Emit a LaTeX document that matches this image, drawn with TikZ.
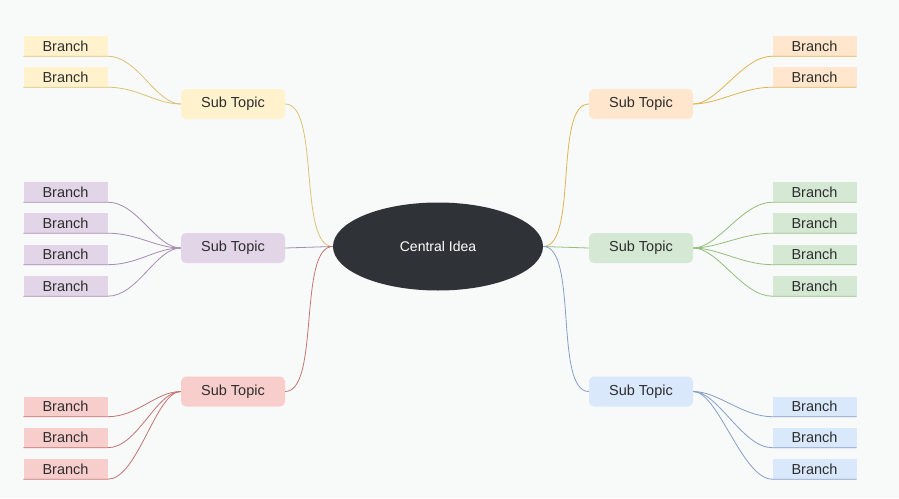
\documentclass[tikz,border=0pt]{standalone}
\usepackage{fontspec}
\setmainfont{Liberation Sans}
\usepackage{tikz}
\usetikzlibrary{positioning,shapes.geometric}
\usepackage{xcolor}
\definecolor{paper}{RGB}{248,249,249}
\definecolor{ideadark}{RGB}{47,51,56}
\definecolor{inkgrey}{RGB}{45,45,45}
\definecolor{yelfill}{HTML}{FFF2CC}
\definecolor{yelline}{HTML}{DCC276}
\definecolor{orafill}{HTML}{FFE6CC}
\definecolor{oraline}{HTML}{DDB552}
\definecolor{purfill}{HTML}{E1D5E7}
\definecolor{purline}{HTML}{A68BB3}
\definecolor{grnfill}{HTML}{D5E8D4}
\definecolor{grnline}{HTML}{95BE7E}
\definecolor{redfill}{HTML}{F8CECC}
\definecolor{redline}{HTML}{C27470}
\definecolor{blufill}{HTML}{DAE8FC}
\definecolor{bluline}{HTML}{869FC8}

\tikzset{
  idea/.style={ellipse,fill=ideadark,text=white,minimum width=210pt,
    minimum height=88pt,inner sep=0pt,font=\fontsize{14}{16}\selectfont},
  subtopic/.style={rectangle,rounded corners=5pt,minimum width=104pt,
    minimum height=30pt,inner sep=0pt,text=inkgrey,
    font=\fontsize{14.5}{16}\selectfont},
  branchbox/.style={rectangle,minimum width=84pt,minimum height=20pt,
    inner sep=0pt,text=inkgrey,font=\fontsize{14.5}{16}\selectfont},
  link/.style={line width=0.8pt},
}

\begin{document}
\begin{tikzpicture}[x=1pt,y=-1pt]
\fill[paper] (0,0) rectangle (899,498);
\useasboundingbox (0,0) rectangle (899,498);

% centre
\node[idea] (idea) at (438,246.5) {Central Idea};

% sub topics
\node[subtopic,fill=yelfill] (stA) at (233,104) {Sub Topic};
\node[subtopic,fill=purfill] (stB) at (233,248) {Sub Topic};
\node[subtopic,fill=redfill] (stC) at (233,391.5) {Sub Topic};
\node[subtopic,fill=orafill] (stD) at (641,104) {Sub Topic};
\node[subtopic,fill=grnfill] (stE) at (641,248) {Sub Topic};
\node[subtopic,fill=blufill] (stF) at (641,391.5) {Sub Topic};

\draw[link,yelline] (idea.west) .. controls +(-35,0) and +(35,0) .. (stA.east);
\draw[link,purline] (idea.west) -- (stB.east);
\draw[link,redline] (idea.west) .. controls +(-35,0) and +(35,0) .. (stC.east);
\draw[link,oraline] (idea.east) .. controls +(35,0) and +(-35,0) .. (stD.west);
\draw[link,grnline] (idea.east) -- (stE.west);
\draw[link,bluline] (idea.east) .. controls +(35,0) and +(-35,0) .. (stF.west);

% left branches
\foreach \nm/\y in {a1/46,a2/77} {
  \node[branchbox,fill=yelfill] (\nm) at (65.5,\y) {Branch};
  \draw[link,yelline] (\nm.south west) -- (\nm.south east)
    .. controls +(30,0) and +(-25,0) .. (stA.west);
}
\foreach \nm/\y in {b1/192,b2/223,b3/254.5,b4/286} {
  \node[branchbox,fill=purfill] (\nm) at (65.5,\y) {Branch};
  \draw[link,purline] (\nm.south west) -- (\nm.south east)
    .. controls +(30,0) and +(-25,0) .. (stB.west);
}
\foreach \nm/\y in {c1/406.5,c2/437.5,c3/469} {
  \node[branchbox,fill=redfill] (\nm) at (65.5,\y) {Branch};
  \draw[link,redline] (\nm.south west) -- (\nm.south east)
    .. controls +(30,0) and +(-25,0) .. (stC.west);
}

% right branches
\foreach \nm/\y in {d1/46,d2/77} {
  \node[branchbox,fill=orafill] (\nm) at (814.5,\y) {Branch};
  \draw[link,oraline] (\nm.south east) -- (\nm.south west)
    .. controls +(-30,0) and +(25,0) .. (stD.east);
}
\foreach \nm/\y in {e1/192,e2/223,e3/254.5,e4/286} {
  \node[branchbox,fill=grnfill] (\nm) at (814.5,\y) {Branch};
  \draw[link,grnline] (\nm.south east) -- (\nm.south west)
    .. controls +(-30,0) and +(25,0) .. (stE.east);
}
\foreach \nm/\y in {f1/406.5,f2/437.5,f3/469} {
  \node[branchbox,fill=blufill] (\nm) at (814.5,\y) {Branch};
  \draw[link,bluline] (\nm.south east) -- (\nm.south west)
    .. controls +(-30,0) and +(25,0) .. (stF.east);
}
\end{tikzpicture}
\end{document}
